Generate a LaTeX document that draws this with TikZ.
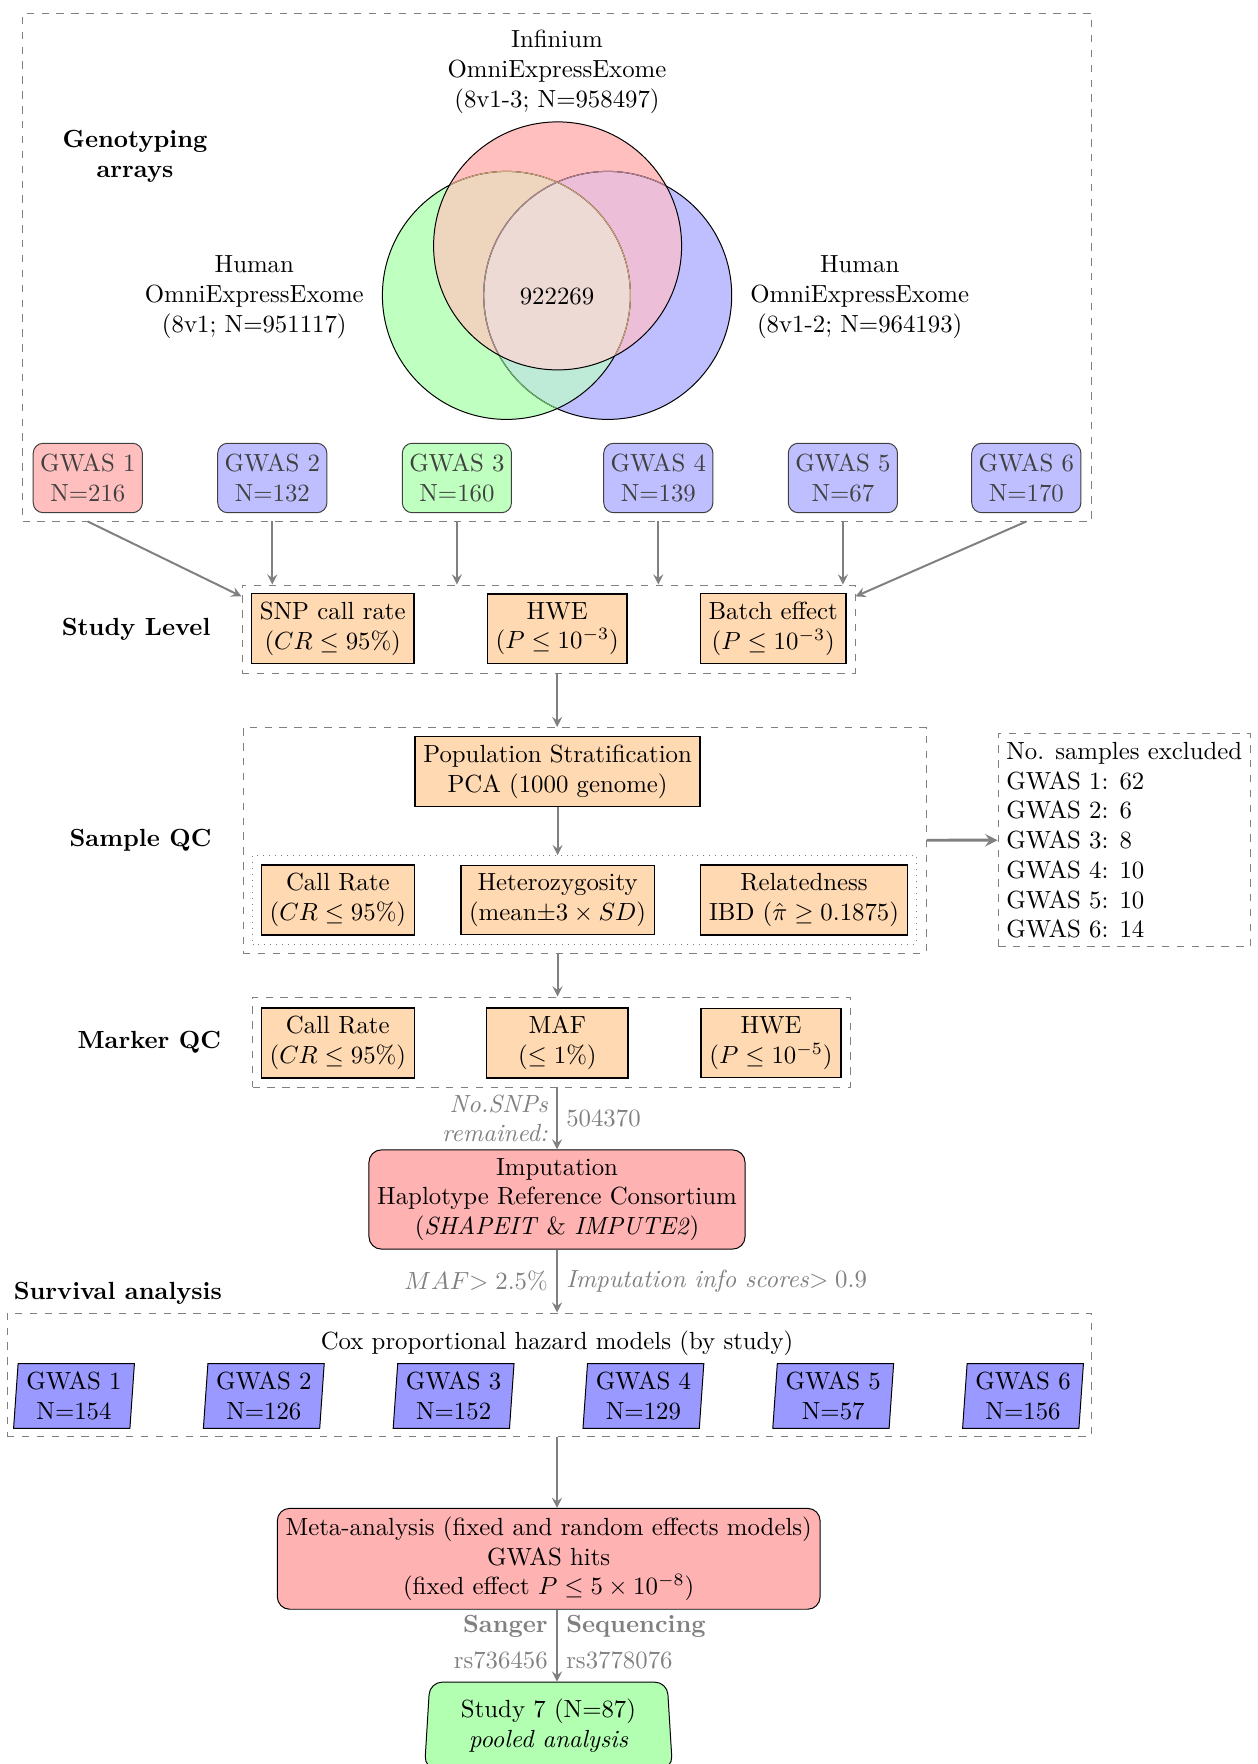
\documentclass[tikz,border=0pt]{standalone}
\usepackage{tikz}
\usetikzlibrary{shapes,arrows,positioning,calc,fit}
\usepackage{xcolor}
\definecolor{vennrg}{RGB}{238,214,190}
\definecolor{vennrb}{RGB}{236,190,216}
\definecolor{venngb}{RGB}{190,235,215}
\definecolor{vennrgb}{RGB}{237,218,212}

\begin{document}
\begin{tikzpicture}[x=0.4032pt,y=-0.4032pt,
    groupbox/.style={draw=gray,dashed,inner sep=0pt},
    qcbox/.style={draw,semithick,fill=orange!30,align=center},
    chipbox/.style={draw=black!75,text=black!75,rounded corners=4pt,align=center,minimum height=28pt,inner xsep=2.8pt},
    coxbox/.style={trapezium,trapezium left angle=86,trapezium right angle=94,draw,fill=blue!40,align=center},
    bigbox/.style={draw,rounded corners=5pt,fill=red!30,align=center},
    steplabel/.style={font=\bfseries,align=center},
    arr/.style={draw=gray,thick,-stealth},
    note/.style={text=gray}]
\useasboundingbox (0,0) rectangle (1257,1764);

% Genotyping arrays (venn)
\def\cred{(557.6,245.9) circle (124)}
\def\cgreen{(506.4,295.4) circle (124)}
\def\cblue{(607.7,295.4) circle (124)}
\fill[blue!25] \cblue;
\fill[green!25] \cgreen;
\fill[red!25] \cred;
\begin{scope}
    \clip \cgreen;
    \fill[venngb] \cblue;
\end{scope}
\begin{scope}
    \clip \cred;
    \fill[vennrg] \cgreen;
    \fill[vennrb] \cblue;
    \clip \cgreen;
    \fill[vennrgb] \cblue;
\end{scope}
% outlines (later fills tint the ones below)
\draw \cblue;
\begin{scope}
    \clip \cgreen;
    \draw[green!50!black!60] \cblue;
\end{scope}
\draw \cgreen;
\begin{scope}
    \clip \cred;
    \draw[brown!70] \cgreen;
    \draw[purple!60!black!50] \cblue;
\end{scope}
\draw \cred;
\node[align=center] (infin) at (557,71.8) {Infinium\\OmniExpressExome\\(8v1-3; N=958497)};
\node[align=center] (human1) at (254.3,297.3) {Human\\OmniExpressExome\\(8v1; N=951117)};
\node[align=center] (human2) at (859.7,297.3) {Human\\OmniExpressExome\\(8v1-2; N=964193)};
\node (common) at (557,297) {922269};
\node[steplabel] (genolbl) at (135,156) {Genotyping\\arrays};

% studies
\foreach \i/\x/\n/\c in {1/87.8/216/red,2/272.3/132/blue,3/456.9/160/green,4/658.3/139/blue,5/842.9/67/blue,6/1026.3/170/blue}
    \node[chipbox,fill=\c!25] (gw\i) at (\x,478) {GWAS \i\\N=\n};
\node[groupbox,fit={(22.5,13.5) (1091.5,521)}] (top) {};

% Study level
\node[qcbox] (snpcr) at (332.7,628.6) {SNP call rate\\($CR \leq 95\%$)};
\node[qcbox] (hwe1) at (557.2,628.6) {HWE\\($P \leq 10^{-3}$)};
\node[qcbox] (batch) at (773.2,628.6) {Batch effect\\($P \leq 10^{-3}$)};
\node[groupbox,fit={(242,585) (855,673)}] (study) {};
\node[steplabel,left=9pt of study] (studylbl) {Study Level};

% Sample QC
\node[qcbox] (popstrat) at (557.6,771.6) {Population Stratification\\PCA (1000 genome)};
\node[qcbox] (samplecr) at (337.9,900) {Call Rate\\($CR \leq 95\%$)};
\node[qcbox] (hetero) at (557.6,900) {Heterozygosity\\(mean$\pm3\times SD$)};
\node[qcbox] (related) at (804,900) {Relatedness\\IBD ($\hat{\pi}\geq 0.1875$)};
\node[draw=gray,dotted,inner sep=0pt,fit={(252.5,855.7) (916.3,944.3)}] (inner) {};
\node[groupbox,fit={(243,727.5) (926,953)}] (sample) {};
\node[steplabel,left=9pt of sample] (samplelbl) {Sample QC};
\node[groupbox,inner sep=3.33pt,align=left] (excl) at (1124.3,840.2) {No. samples excluded\\GWAS 1: 62\\GWAS 2: 6\\GWAS 3: 8\\GWAS 4: 10\\GWAS 5: 10\\GWAS 6: 14};

% Marker QC
\node[qcbox] (markercr) at (337.8,1043) {Call Rate\\($CR \leq 95\%$)};
\node[qcbox,minimum width=57pt] (maf) at (557.3,1043) {MAF\\($\leq 1\%$)};
\node[qcbox] (hwe2) at (771,1043) {HWE\\($P \leq 10^{-5}$)};
\node[groupbox,fit={(252.5,997) (850.2,1087)}] (marker) {};
\node[steplabel,left=9pt of marker] (markerlbl) {Marker QC};

% Imputation
\node[bigbox] (imp) at (557,1199.5) {Imputation\\Haplotype Reference Consortium\\(\textit{SHAPEIT} \& \textit{IMPUTE2})};

% Survival analysis
\node[steplabel,anchor=west] (survlbl) at (5,1293) {Survival analysis};
\node (coxlbl) at (557,1343.6) {Cox proportional hazard models (by study)};
\foreach \i/\n in {1/154,2/126,3/152,4/129,5/57,6/156}
    \node[coxbox] (cox\i) at ({74+189.8*(\i-1)},1396) {GWAS \i\\N=\n};
\node[groupbox,fit={(7,1313) (1091.5,1436)}] (cox) {};

% Meta-analysis
\node[bigbox] (meta) at (548.7,1558.8) {Meta-analysis (fixed and random effects models)\\GWAS hits\\(fixed effect $P \leq 5\times10^{-8}$)};
\node[trapezium,trapezium left angle=86.5,trapezium right angle=86.5,draw,rounded corners=5pt,fill=green!30,align=center,minimum height=35pt] (study7) at (548.5,1725.5) {Study 7 (N=87)\\\textit{pooled analysis}};

% arrows
\draw[arr] (gw1 |- top.south) -- ([yshift=-4.8pt]study.north west);
\foreach \i in {2,...,5}
    \draw[arr] (gw\i |- top.south) -- (gw\i |- study.north);
\draw[arr] (gw6 |- top.south) -- ([yshift=-4.8pt]study.north east);
\draw[arr] (hwe1 |- study.south) -- (hwe1 |- sample.north);
\draw[arr] (popstrat.south) -- (popstrat |- inner.north);
\draw[arr,very thick] (sample.east) -- (excl.west);
\draw[arr] (popstrat |- sample.south) -- (popstrat |- marker.north);
\draw[arr] (marker.south -| imp) -- node[note,left,font=\itshape,align=right] {No.SNPs\\remained:} node[note,right] {504370} (imp.north);
\draw[arr] (imp.south) -- node[note,left] {$MAF$$>2.5\%$} node[note,right] {\textit{Imputation info scores}$>0.9$} (imp |- cox.north);
\draw[arr] (imp |- cox.south) -- (imp |- meta.north);
\draw[arr] (imp |- meta.south) -- node[pos=0.23,note,left,font=\bfseries] {Sanger} node[pos=0.23,note,right,font=\bfseries] {Sequencing}
    node[pos=0.7,note,left] {rs736456} node[pos=0.7,note,right] {rs3778076} (imp |- study7.north);
\end{tikzpicture}
\end{document}
